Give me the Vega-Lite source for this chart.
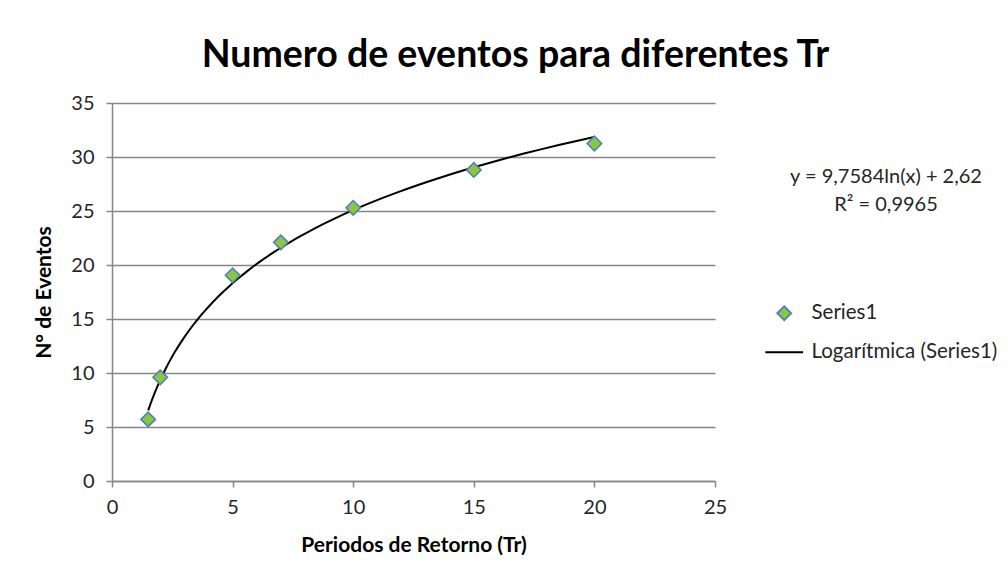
{
  "$schema": "https://vega.github.io/schema/vega-lite/v6.json",
  "width": 603,
  "height": 378,
  "autosize": {"type": "none"},
  "padding": {"left": 112, "top": 103, "right": 293, "bottom": 98},
  "background": "white",
  "config": {
    "view": {"stroke": null},
    "font": "Lato",
    "axis": {
      "domainColor": "#868686",
      "domainWidth": 1.5,
      "tickColor": "#868686",
      "tickWidth": 1.5,
      "tickSize": 6,
      "labelFont": "Lato",
      "labelFontSize": 20,
      "labelColor": "#262626",
      "labelFlush": false,
      "titleFont": "Lato",
      "titleFontSize": 21,
      "titleFontWeight": "bold",
      "titleColor": "#000000"
    }
  },
  "title": {
    "text": "Numero de eventos para diferentes Tr",
    "font": "Lato",
    "fontSize": 37.5,
    "fontWeight": "bold",
    "color": "#000000",
    "anchor": "middle",
    "frame": "group",
    "dx": 102,
    "offset": 19
  },
  "data": {
    "values": [
      {"tr": 1.5, "eventos": 5.7},
      {"tr": 2, "eventos": 9.6},
      {"tr": 5, "eventos": 19.05},
      {"tr": 7, "eventos": 22.1},
      {"tr": 10, "eventos": 25.3},
      {"tr": 15, "eventos": 28.8},
      {"tr": 20, "eventos": 31.25}
    ]
  },
  "layer": [
    {
      "transform": [
        {"regression": "eventos", "on": "tr", "method": "log", "extent": [1.5, 20]}
      ],
      "mark": {"type": "line", "strokeWidth": 2, "interpolate": "monotone"},
      "encoding": {
        "x": {
          "field": "tr",
          "type": "quantitative",
          "scale": {"domain": [0, 25], "nice": false, "zero": false},
          "axis": {
            "values": [0, 5, 10, 15, 20, 25],
            "grid": false,
            "title": "Periodos de Retorno (Tr)",
            "labelPadding": 10,
            "titlePadding": 17
          }
        },
        "y": {
          "field": "eventos",
          "type": "quantitative",
          "scale": {"domain": [0, 35], "nice": false},
          "axis": {
            "values": [0, 5, 10, 15, 20, 25, 30, 35],
            "grid": true,
            "gridColor": "#868686",
            "gridWidth": 1.5,
            "title": "N° de Eventos",
            "labelPadding": 12,
            "titlePadding": 16
          }
        },
        "stroke": {
          "datum": "Logarítmica (Series1)",
          "type": "nominal",
          "scale": {
            "domain": ["Series1", "Logarítmica (Series1)"],
            "range": ["#4F81BD", "#000000"]
          },
          "legend": {
            "title": ["y = 9,7584ln(x) + 2,62", "R² = 0,9965"],
            "orient": "none",
            "legendX": 662,
            "legendY": 64,
            "titleFont": "Lato",
            "titleFontSize": 20,
            "titleFontWeight": "normal",
            "titleColor": "#262626",
            "titleLineHeight": 28,
            "titleAlign": "center",
            "titleAnchor": "middle",
            "titleLimit": 500,
            "titlePadding": 88,
            "labelFont": "Lato",
            "labelFontSize": 20.5,
            "labelColor": "#262626",
            "labelOffset": 17,
            "symbolSize": 196,
            "symbolStrokeWidth": 1.8,
            "rowPadding": 18,
            "labelLimit": 400
          }
        }
      }
    },
    {
      "mark": {"type": "point", "filled": true, "size": 210, "strokeWidth": 1.6, "opacity": 1},
      "encoding": {
        "x": {"field": "tr", "type": "quantitative"},
        "y": {"field": "eventos", "type": "quantitative"},
        "stroke": {"datum": "Series1", "type": "nominal"},
        "fill": {
          "datum": "Series1",
          "type": "nominal",
          "scale": {
            "domain": ["Series1", "Logarítmica (Series1)"],
            "range": ["#8CC63F", "rgba(0,0,0,0)"]
          },
          "legend": {
            "title": ["y = 9,7584ln(x) + 2,62", "R² = 0,9965"],
            "orient": "none",
            "legendX": 662,
            "legendY": 64
          }
        },
        "shape": {
          "datum": "Series1",
          "type": "nominal",
          "scale": {
            "domain": ["Series1", "Logarítmica (Series1)"],
            "range": ["diamond", "M-2.7,0H2.7"]
          },
          "legend": {
            "title": ["y = 9,7584ln(x) + 2,62", "R² = 0,9965"],
            "orient": "none",
            "legendX": 662,
            "legendY": 64
          }
        }
      }
    }
  ]
}
